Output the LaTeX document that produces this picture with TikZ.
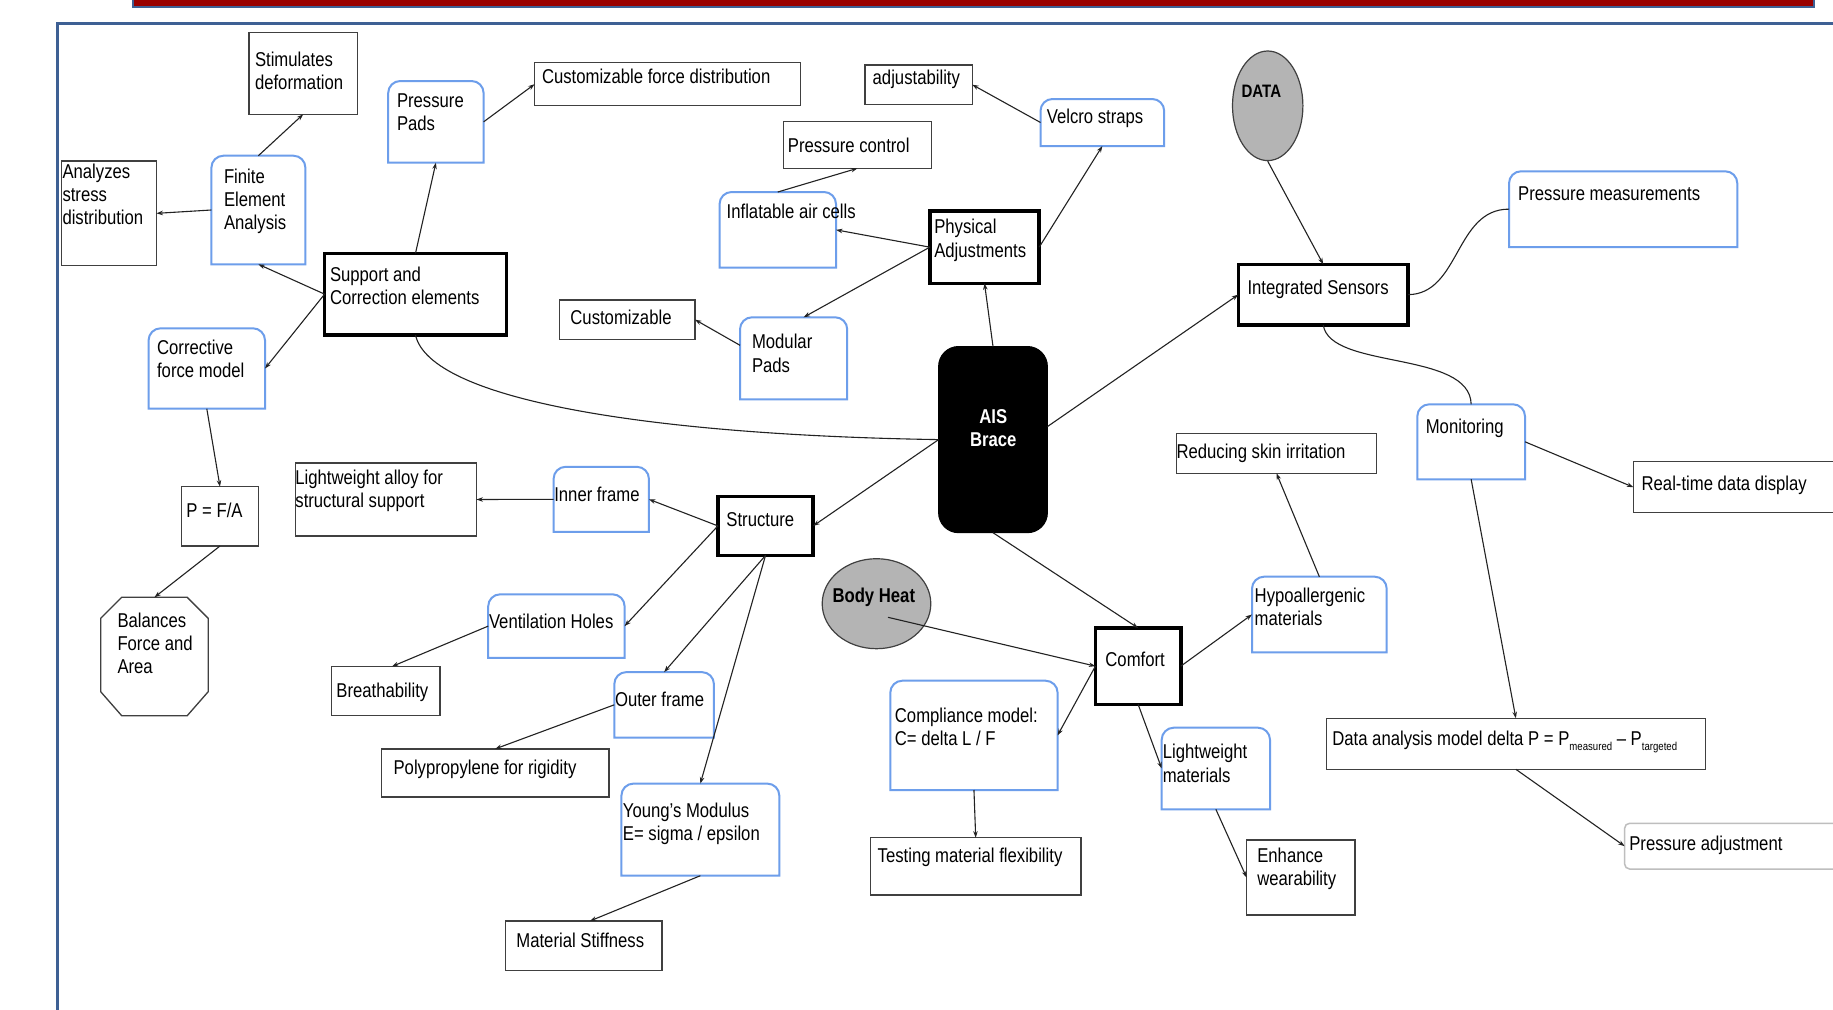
\documentclass[tikz,border=0pt]{standalone}
\usepackage{fontspec}
\setmainfont{Liberation Sans}[FakeStretch=0.835]
\usetikzlibrary{arrows.meta,calc,shapes.geometric}
\definecolor{bluebd}{RGB}{109,158,235}
\definecolor{framebl}{RGB}{62,96,148}
\definecolor{barred}{RGB}{153,0,0}
\definecolor{plainbd}{RGB}{64,64,64}
\definecolor{ellgray}{RGB}{180,180,180}
\definecolor{pabd}{RGB}{190,190,190}
\definecolor{linec}{RGB}{34,34,34}
\newcommand\fs{\fontsize{20}{23.3}\selectfont}
\newcommand\Ts{\rule{0pt}{17pt}}
\newcommand\subt[1]{\raisebox{-5pt}{\fontsize{11.5}{12}\selectfont #1}}
% box node from corners: style, name, x1,y1,x2,y2
\newcommand\mkbox[6]{\node[#1, minimum width={(#5-#3)*1pt}, minimum height={(#6-#4)*1pt}] (#2) at ({(#3+#5)/2},{(#4+#6)/2}) {};}
\newcommand\bluebox[5]{\mkbox{shp}{#1}{#2}{#3}{#4}{#5}
  \draw[blueln] (#1.south west) -- (#1.west) [rounded corners=12pt] -- (#1.north west) -- (#1.north east) -- (#1.east) [sharp corners] -- (#1.south east) -- cycle;}
\tikzset{
  shp/.style={rectangle, inner sep=0pt, outer sep=0pt},
  plainbox/.style={shp, draw=plainbd, line width=1.3pt, fill=white},
  thickbox/.style={shp, draw=black, line width=3.5pt, fill=white},
  blueln/.style={draw=bluebd, line width=2pt, fill=white},
  txt/.style={inner sep=0pt, outer sep=0pt, align=left, anchor=north west, font=\fs, text=black},
  btxt/.style={txt, font=\fs\bfseries},
  arr/.style={draw=linec, line width=1.1pt, -{Stealth[length=6.5pt,width=4.5pt]}},
  cline/.style={draw=linec, line width=1.1pt},
}
\begin{document}
\begin{tikzpicture}[x=1pt,y=-1pt]
\useasboundingbox (0,0) rectangle (1833,1009);
\clip (0,0) rectangle (1833,1009);
\fill[white] (0,0) rectangle (1833,1009);
% header bar and frame
\filldraw[fill=barred, draw=framebl, line width=2pt] (133.3,-10) rectangle (1814.3,6.7);
\draw[framebl, line width=2.6pt] (57.3,1040) -- (57.3,23.3) -- (1860,23.3);

% ---------- boxes ----------
\mkbox{plainbox}{stim}{248.9}{32.7}{357.5}{114.3}
\mkbox{plainbox}{cfd}{534.6}{62.7}{800.4}{105.7}
\mkbox{plainbox}{anl}{61.4}{161}{156.4}{265.7}
\mkbox{plainbox}{adj}{865}{65}{972.2}{104.3}
\mkbox{plainbox}{pctl}{783.4}{121.3}{931.6}{168.3}
\mkbox{plainbox}{cust}{559.3}{300}{695}{339.3}
\mkbox{plainbox}{pfa}{181.8}{486.7}{258.2}{546}
\mkbox{plainbox}{la}{295.4}{463}{476.4}{536}
\mkbox{plainbox}{breath}{331.8}{666.5}{440}{715.5}
\mkbox{plainbox}{poly}{381.4}{748.9}{608.9}{797.1}
\mkbox{plainbox}{mstiff}{505.7}{921}{662.1}{970.4}
\mkbox{plainbox}{red}{1176.2}{433.7}{1376.7}{473.3}
\mkbox{plainbox}{test}{870.4}{837.7}{1081}{895}
\mkbox{plainbox}{enh}{1246.6}{840}{1355}{915}
\mkbox{plainbox}{rtd}{1633.4}{461.7}{1850}{512.7}
\mkbox{plainbox}{da}{1326.2}{718.3}{1705.5}{769.3}
\mkbox{shp,draw=pabd,line width=1.5pt,rounded corners=5pt}{pa}{1624.6}{823.3}{1850}{869}

\bluebox{pp}{388.2}{81}{483.6}{162.7}
\bluebox{fea}{211.4}{155.7}{305.4}{264.3}
\bluebox{cfm}{148.6}{328.3}{265}{408.7}
\bluebox{velcro}{1040.5}{99}{1164.2}{146}
\bluebox{inflat}{719.6}{192}{836}{267.7}
\bluebox{modular}{740}{317.3}{847.2}{399.3}
\bluebox{pm}{1509}{171.3}{1737.3}{247}
\bluebox{mon}{1417.3}{404.3}{1525}{479.3}
\bluebox{hypo}{1252}{576.7}{1386.7}{652.3}
\bluebox{comp}{890.3}{680.7}{1057.6}{790}
\bluebox{lwm}{1161.7}{727.7}{1270}{809.3}
\bluebox{inner}{553.6}{466.8}{648.9}{531.8}
\bluebox{vh}{488.2}{594.3}{624.6}{657.9}
\bluebox{outer}{614.3}{672.1}{713.9}{737.5}
\bluebox{young}{621.4}{783.6}{779.3}{875.7}

\mkbox{thickbox}{sup}{324.6}{253.3}{506.4}{335}
\mkbox{thickbox}{phys}{929.8}{211}{1039.2}{283.3}
\mkbox{thickbox}{is}{1238.3}{264.3}{1408.2}{325}
\mkbox{thickbox}{struct}{717.9}{496.4}{813.2}{555.4}
\mkbox{thickbox}{comfort}{1095.4}{628}{1180.8}{704.3}

\mkbox{shp,fill=black,draw=black,line width=1pt,rounded corners=20pt}{ais}{938.6}{346.5}{1047.4}{532.7}

\node[ellipse, draw=plainbd, line width=1.2pt, fill=ellgray, inner sep=0pt, minimum width=70.4pt, minimum height=109.6pt] (data) at (1267.7,105.8) {};
\node[ellipse, draw=plainbd, line width=1.2pt, fill=ellgray, inner sep=0pt, minimum width=108.6pt, minimum height=90pt] (bh) at (876.5,603.7) {};

\mkbox{shp}{bal}{100.7}{597.3}{208.2}{715.7}
\draw[draw=plainbd, line width=1.3pt] ([xshift=21pt]bal.north west) -- ([xshift=-21pt]bal.north east) -- ([yshift=-21pt]bal.north east) -- ([yshift=24pt]bal.south east) -- ([xshift=-21pt]bal.south east) -- ([xshift=21pt]bal.south west) -- ([yshift=24pt]bal.south west) -- ([yshift=-21pt]bal.north west) -- cycle;

% ---------- texts ----------
\node[txt] (t-stim) at (255,49) {\Ts Stimulates\\deformation};
\node[txt] (t-pp) at (397,90) {\Ts Pressure\\Pads};
\node[txt] (t-cfd) at (542,66.7) {\Ts Customizable force distribution};
\node[txt] (t-anl) at (62.5,161) {\Ts Analyzes\\stress\\distribution};
\node[txt] (t-fea) at (224,166) {\Ts Finite\\Element\\Analysis};
\node[txt] (t-sup) at (330,264) {\Ts Support and\\Correction elements};
\node[txt] (t-adj) at (872.7,67.3) {\Ts adjustability};
\node[txt] (t-velcro) at (1046.8,106.7) {\Ts Velcro straps};
\node[txt] (t-pctl) at (787.9,135.3) {\Ts Pressure control};
\node[txt] (t-inflat) at (726.7,201.7) {\Ts Inflatable air cells};
\node[txt] (t-phys) at (934.3,216.7) {\Ts Physical\\Adjustments};
\node[txt] (t-cust) at (570.4,307.3) {\Ts Customizable};
\node[txt] (t-modular) at (752,331.7) {\Ts Modular\\Pads};
\node[txt, anchor=north, align=center, font=\fs\bfseries, text=white] (t-ais) at (993.3,406) {\Ts AIS\\Brace};
\node[txt, font=\fontsize{18}{21}\selectfont\bfseries] (t-data) at (1241.6,80.4) {\Ts DATA};
\node[txt] (t-pm) at (1518.2,183.3) {\Ts Pressure measurements};
\node[txt] (t-is) at (1247.5,277.7) {\Ts Integrated Sensors};
\node[txt] (t-mon) at (1425.8,416.7) {\Ts Monitoring};
\node[txt] (t-rtd) at (1641.6,473.3) {\Ts Real-time data display};
\node[txt] (t-da) at (1332.3,728.3) {\Ts Data analysis model delta P = P\subt{measured} – P\subt{targeted}};
\node[txt] (t-pa) at (1629.3,833.3) {\Ts Pressure adjustment};
\node[txt] (t-red) at (1176.5,441.7) {\Ts Reducing skin irritation};
\node[txt] (t-hypo) at (1254.7,585) {\Ts Hypoallergenic\\materials};
\node[btxt] (t-bh) at (832.5,585) {\Ts Body Heat};
\node[txt] (t-comfort) at (1105.4,649.3) {\Ts Comfort};
\node[txt] (t-comp) at (894.9,705) {\Ts Compliance model:\\C= delta L / F};
\node[txt] (t-lwm) at (1162.8,741.7) {\Ts Lightweight\\materials};
\node[txt] (t-test) at (877.7,845) {\Ts Testing material flexibility};
\node[txt] (t-enh) at (1257.3,845) {\Ts Enhance\\wearability};
\node[txt] (t-cfm) at (157.1,337.3) {\Ts Corrective\\force model};
\node[txt] (t-pfa) at (186.4,500.7) {\Ts P = F/A};
\node[txt] (t-bal) at (117.5,610) {\Ts Balances\\Force and\\Area};
\node[txt] (t-la) at (295.4,467.5) {\Ts Lightweight alloy for\\structural support};
\node[txt] (t-inner) at (554.3,484.3) {\Ts Inner frame};
\node[txt] (t-struct) at (726.4,509.3) {\Ts Structure};
\node[txt] (t-vh) at (489,611.4) {\Ts Ventilation Holes};
\node[txt] (t-breath) at (336.4,680) {\Ts Breathability};
\node[txt] (t-outer) at (615,689.6) {\Ts Outer frame};
\node[txt] (t-poly) at (393.6,757.9) {\Ts Polypropylene for rigidity};
\node[txt] (t-young) at (622.9,800.4) {\Ts Young's Modulus\\E= sigma / epsilon};
\node[txt] (t-mstiff) at (516.4,930) {\Ts Material Stiffness};

% ---------- connectors ----------
\draw[arr] (fea.north) -- (stim.south);
\draw[arr] (fea.west) -- (anl.east);
\draw[arr] (sup.west) -- (fea.south);
\draw[arr] (sup.north) -- (pp.south);
\draw[arr] (pp.east) -- (cfd.west);
\draw[arr] (sup.west) -- (cfm.east);
\draw[arr] (cfm.south) -- (pfa.north);
\draw[arr] (pfa.south) -- (bal.north);
\draw[arr] (inner.west) -- (la.east);
\draw[arr] (struct.west) -- (inner.east);
\draw[arr] (struct.west) -- (vh.east);
\draw[arr] (vh.west) -- ([xshift=6pt]breath.north);
\draw[arr] (struct.south) -- (outer.north);
\draw[arr] (outer.west) -- (poly.north);
\draw[arr] (struct.south) -- (young.north);
\draw[arr] (young.south) -- ([xshift=6pt]mstiff.north);
\draw[arr] (ais.west) -- (struct.east);
\draw[cline] (sup.south) .. controls (430,400) and (650,435) .. (ais.west);
\draw[arr] (ais.north) -- (phys.south);
\draw[arr] (phys.west) -- (inflat.east);
\draw[arr] (phys.west) -- ([xshift=10pt]modular.north);
\draw[arr] ([yshift=13pt]modular.west) -- (cust.east);
\draw[arr] (inflat.north) -- (pctl.south);
\draw[arr] (phys.east) -- (velcro.south);
\draw[arr] (velcro.west) -- (adj.east);
\draw[arr] ([yshift=13pt]ais.east) -- (is.west);
\draw[arr] (data.south) -- (is.north);
\draw[cline] (is.east) .. controls (1460,294) and (1455,209) .. (pm.west);
\draw[cline] (is.south) .. controls (1330,370) and (1470,350) .. (mon.north);
\draw[arr] (mon.east) -- (rtd.west);
\draw[arr] (mon.south) -- (da.north);
\draw[arr] (da.south) -- (pa.west);
\draw[arr] (ais.south) -- (comfort.north);
\draw[arr] ([xshift=11.5pt,yshift=-13.6pt]bh.center) -- (comfort.west);
\draw[arr] (comfort.west) -- (comp.east);
\draw[arr] (comfort.east) -- (hypo.west);
\draw[arr] (hypo.north) -- (red.south);
\draw[arr] (comfort.south) -- (lwm.west);
\draw[arr] (lwm.south) -- (enh.west);
\draw[arr] (comp.south) -- (test.north);
\end{tikzpicture}
\end{document}
